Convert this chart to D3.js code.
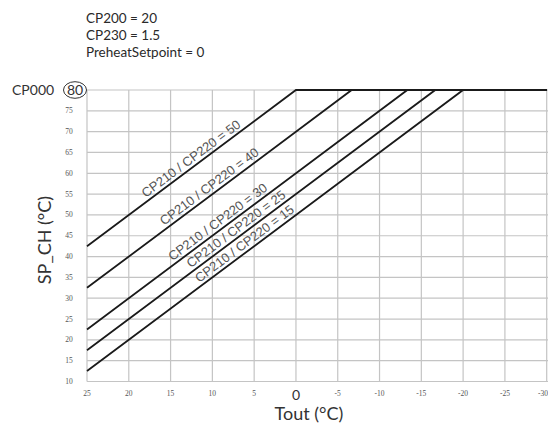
<!DOCTYPE html>
<html>
<head>
<meta charset="utf-8">
<script src="https://cdn.jsdelivr.net/npm/d3@7"></script>
<style>
  body { margin: 0; background: #fff; }
  svg { display: block; }
</style>
</head>
<body>
<svg id="chart" width="548" height="423"></svg>
<script>
// ---- data ----
const headerLines = ["CP200 = 20", "CP230 = 1.5", "PreheatSetpoint = 0"];
const curveNames = ["CP210 / CP220 = 50", "CP210 / CP220 = 40", "CP210 / CP220 = 30", "CP210 / CP220 = 25", "CP210 / CP220 = 15"];
// each curve: [Tout, SP] points (start at 25°C, knee at 80, flat to -30)
const curve50 = [[25, 42.5], [0, 80], [-30, 80]];
const curve40 = [[25, 32.5], [-6.67, 80], [-30, 80]];
const curve30 = [[25, 22.5], [-13.33, 80], [-30, 80]];
const curve25 = [[25, 17.5], [-16.67, 80], [-30, 80]];
const curve15 = [[25, 12.5], [-20, 80], [-30, 80]];
const curves = [curve50, curve40, curve30, curve25, curve15];
const labelTout = [12.0, 9.8, 8.8, 6.6, 5.6];
const xTicks = [25, 20, 15, 10, 5, 0, -5, -10, -15, -20, -25, -30];
const yTicks = [10, 15, 20, 25, 30, 35, 40, 45, 50, 55, 60, 65, 70, 75];
const maxValue = 80;

// ---- layout ----
const svg = d3.select("#chart");
const x = d3.scaleLinear().domain([25, -30]).range([87, 546.7]);
const y = d3.scaleLinear().domain([10, 80]).range([381.5, 90]);

// grid
const gridG = svg.append("g");
gridG.selectAll("line.v").data(xTicks).join("line")
  .attr("x1", d => x(d)).attr("x2", d => x(d))
  .attr("y1", y(80)).attr("y2", y(10))
  .attr("stroke", "#c4c4c4").attr("stroke-width", 1.2);
gridG.selectAll("line.h").data(yTicks.concat([80])).join("line")
  .attr("x1", x(25)).attr("x2", 548)
  .attr("y1", d => y(d)).attr("y2", d => y(d))
  .attr("stroke", "#c4c4c4").attr("stroke-width", 1.2);

// y tick labels
svg.append("g").selectAll("text").data(yTicks).join("text")
  .attr("x", 69).attr("y", d => y(d) + 2.5)
  .attr("text-anchor", "middle")
  .attr("font-family", "Liberation Serif, serif")
  .attr("font-size", 7.5).attr("fill", "#555")
  .text(d => d);

// x tick labels
svg.append("g").selectAll("text").data(xTicks.filter(d => d !== 0)).join("text")
  .attr("x", d => d === -30 ? 548 : x(d)).attr("y", 396)
  .attr("text-anchor", d => d === -30 ? "end" : "middle")
  .attr("font-family", "Liberation Serif, serif")
  .attr("font-size", 7.5).attr("fill", "#555")
  .text(d => d);
svg.append("text").attr("x", x(0)).attr("y", 400)
  .attr("text-anchor", "middle")
  .attr("font-family", "Lato, sans-serif").attr("font-size", 14).attr("fill", "#333")
  .text("0");

// CP000 and circled 80
svg.append("text").attr("x", 12).attr("y", 95)
  .attr("font-family", "Lato, sans-serif").attr("font-size", 14).attr("fill", "#333")
  .text("CP000");
svg.append("ellipse").attr("cx", 75).attr("cy", y(maxValue))
  .attr("rx", 11.5).attr("ry", 8.3)
  .attr("fill", "none").attr("stroke", "#333").attr("stroke-width", 1);
svg.append("text").attr("x", 75).attr("y", y(maxValue) + 5)
  .attr("text-anchor", "middle")
  .attr("font-family", "Lato, sans-serif").attr("font-size", 14).attr("fill", "#333")
  .text(maxValue);

// header
svg.append("g").selectAll("text").data(headerLines).join("text")
  .attr("x", 86).attr("y", (d, i) => 23 + i * 17)
  .attr("font-family", "Lato, sans-serif").attr("font-size", 13.5).attr("fill", "#2a2a2a")
  .text(d => d);

// curves
const line = d3.line().x(d => x(d[0])).y(d => y(d[1]));
svg.append("g").selectAll("path").data(curves).join("path")
  .attr("d", line).attr("fill", "none")
  .attr("stroke", "#1a1a1a").attr("stroke-width", 1.8);

// curve labels
const ang = Math.atan2(Math.abs(y(10) - y(11.5)), Math.abs(x(1) - x(0))) * 180 / Math.PI;
curves.forEach((c, i) => {
  const t = labelTout[i];
  const sp = c[0][1] + (c[0][0] - t) * (c[1][1] - c[0][1]) / (c[0][0] - c[1][0]);
  svg.append("text")
    .attr("transform", `translate(${x(t)},${y(sp)}) rotate(${-ang})`)
    .attr("y", -3.5)
    .attr("text-anchor", "middle")
    .attr("font-family", "Liberation Sans, Arial, sans-serif")
    .attr("font-size", 13).attr("fill", "#555")
    .text(curveNames[i]);
});

// axis titles
svg.append("text").attr("x", 309).attr("y", 420)
  .attr("text-anchor", "middle")
  .attr("font-family", "Lato, sans-serif").attr("font-size", 18).attr("fill", "#333")
  .text("Tout (°C)");
svg.append("text").attr("transform", "translate(51,240) rotate(-90)")
  .attr("text-anchor", "middle")
  .attr("font-family", "Lato, sans-serif").attr("font-size", 18).attr("fill", "#333")
  .text("SP_CH (°C)");
</script>
</body>
</html>
